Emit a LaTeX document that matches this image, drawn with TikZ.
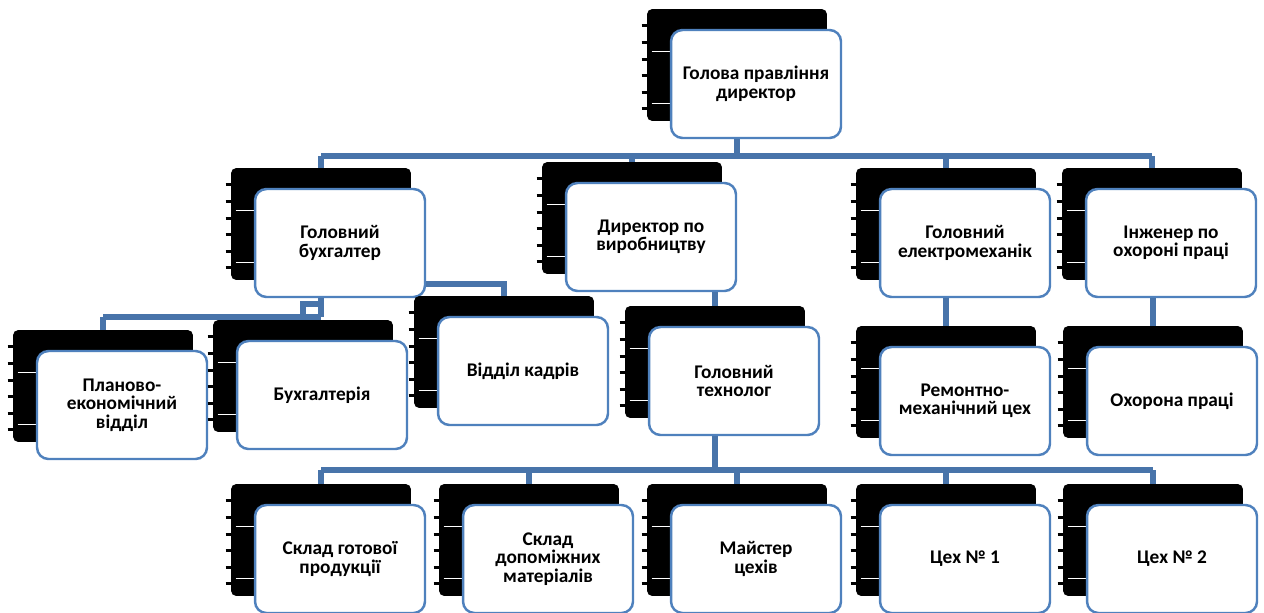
\documentclass[tikz,border=0pt]{standalone}
\usepackage{fontspec}
\setmainfont{Carlito}
\usepackage{tikz}
\usetikzlibrary{calc}
\definecolor{boxblue}{RGB}{79,129,189}
\definecolor{linkblue}{RGB}{72,116,170}
\newcommand{\boxfont}{\fontsize{11}{10.5}\selectfont\bfseries}
\tikzset{
  backbox/.style={rectangle, rounded corners=3pt, minimum width=3.6cm, minimum height=2.24cm, fill=black, inner sep=0pt},
  frontbox/.style={rectangle, rounded corners=6.5pt, minimum width=3.4cm, minimum height=2.16cm, draw=boxblue, line width=1.4pt, fill=white, align=center, font=\boxfont},
  link/.style={draw=linkblue, line width=3.3pt},
  tick/.style={black, line width=1.6pt}
}
% #1 ім'я, #2 x, #3 y (центр блоку), #4 текст
\newcommand{\orgbox}[4]{
    % Тінь позаду блоку
    \node[backbox] (#1b) at (#2-19, #3-19) {};
    \foreach \t in {17,34,51,67,84,100}
        \draw[tick] ([shift={(-5,\t)}]#1b.north west) -- ++(7,0);
    \foreach \t in {43,95}
        \draw[white, line width=0.8pt] ([shift={(5,\t)}]#1b.north west) -- ++(22,0);
    % Сам блок
    \node[frontbox] (#1) at (#2,#3) {#4};
}

\begin{document}
\begin{tikzpicture}[x=0.02cm, y=-0.02cm]

    \useasboundingbox (0,0) rectangle (1264,612);
    \clip (0,0) rectangle (1264,612);

    % Рівень 1
    \orgbox{top}{756}{84}{Голова правління\\директор}

    % Рівень 2
    \orgbox{buh}{340}{243}{Головний\\бухгалтер}
    \orgbox{dir}{651}{237}{Директор по\\виробництву}
    \orgbox{elm}{965}{243}{Головний\\електромеханік}
    \orgbox{eng}{1171}{243}{Інженер по\\охороні праці}

    % Рівень 3
    \orgbox{plan}{122}{405}{Планово-\\економічний\\відділ}
    \orgbox{bukh}{322}{395}{Бухгалтерія}
    \orgbox{kadr}{523}{371}{Відділ кадрів}
    \orgbox{tech}{734}{381}{Головний\\технолог}
    \orgbox{rem}{965}{401}{Ремонтно-\\механічний цех}
    \orgbox{okh}{1172}{401}{Охорона праці}

    % Рівень 4
    \orgbox{skl}{340}{559}{Склад готової\\продукції}
    \orgbox{dop}{548}{559}{Склад\\допоміжних\\матеріалів}
    \orgbox{mai}{756}{559}{Майстер\\цехів}
    \orgbox{tsa}{965}{559}{Цех № 1}
    \orgbox{tsb}{1172}{559}{Цех № 2}

    % --- З'ЄДНАННЯ ---
    \coordinate (busA) at (0,156);
    \coordinate (busB) at (0,317);
    \coordinate (busK) at (0,284);
    \coordinate (loopB) at (0,304);
    \coordinate (busC) at (0,470);

    % Голова правління -> рівень 2
    \draw[link] (topb.south |- top.south) -- (topb.south |- busA);
    \draw[link] (buhb.north |- busA) -- (engb.north |- busA);
    \foreach \n in {buh,dir,elm,eng}
        \draw[link] (\n b.north |- busA) -- (\n b.north);

    % Головний бухгалтер -> відділи
    \draw[link] (buhb.south |- buh.south) -- (buhb.south |- busB);
    \draw[link] (planb.north |- busB) -- (buhb.south |- busB);
    \draw[link] (planb.north |- busB) -- (planb.north);
    \draw[link] (bukhb.north) -- (bukhb.north |- loopB) -- (buhb.south |- loopB);
    \draw[link] (buh.east |- busK) -| (kadrb.north);

    % Директор по виробництву -> Головний технолог
    \draw[link] (techb.north |- dir.south) -- (techb.north);

    % Головний технолог -> рівень 4
    \draw[link] (techb.south |- tech.south) -- (techb.south |- busC);
    \draw[link] (sklb.north |- busC) -- (tsbb.north |- busC);
    \foreach \n in {skl,dop,mai,tsa,tsb}
        \draw[link] (\n b.north |- busC) -- (\n b.north);

    % Електромеханік та інженер
    \draw[link] (remb.north |- elm.south) -- (remb.north);
    \draw[link] (okhb.north |- eng.south) -- (okhb.north);

\end{tikzpicture}
\end{document}
